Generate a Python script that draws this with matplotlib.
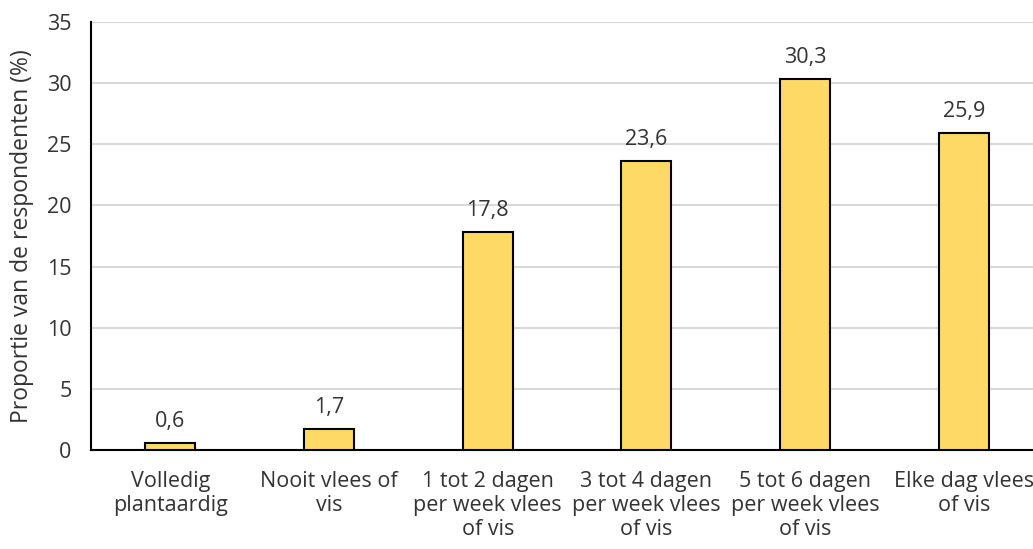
import matplotlib
matplotlib.use("Agg")
import matplotlib.pyplot as plt

categories = ["Volledig\nplantaardig", "Nooit vlees of\nvis", "1 tot 2 dagen\nper week vlees\nof vis",
              "3 tot 4 dagen\nper week vlees\nof vis", "5 tot 6 dagen\nper week vlees\nof vis",
              "Elke dag vlees\nof vis"]
values = [0.6, 1.7, 17.8, 23.6, 30.3, 25.9]
yticks = [0, 5, 10, 15, 20, 25, 30, 35]

plt.rcParams['font.family'] = ['Open Sans', 'DejaVu Sans']

FS = 15.5
TXT = "#333333"

fig = plt.figure(figsize=(10.33, 5.49), dpi=100)
ax = fig.add_axes([0.088, 0.180, 0.922, 0.780])
x = range(len(values))
ax.bar(x, values, width=0.315, color="#FFD966", edgecolor="black", linewidth=1.5, zorder=3)
for xi, v in zip(x, values):
    ax.annotate(f"{v:.1f}".replace(".", ","), (xi, v), xytext=(0, 8), textcoords="offset points",
                ha="center", va="bottom", fontsize=FS, color=TXT)
ax.set_xlim(-0.5, len(values) - 0.5)
ax.set_ylim(0, 35)
ax.set_yticks(yticks)
ax.set_yticklabels([str(t) for t in yticks], fontsize=FS, color=TXT)
ax.set_xticks(list(x))
ax.set_xticklabels(categories, fontsize=FS, color=TXT, linespacing=1.2)
ax.tick_params(axis="y", length=0, pad=14)
ax.tick_params(axis="x", length=0, pad=15)
ax.yaxis.grid(True, color="#d9d9d9", linewidth=1.5, zorder=0)
ax.set_axisbelow(True)
for s in ["top", "right"]:
    ax.spines[s].set_visible(False)
ax.spines["left"].set_linewidth(1.5)
ax.spines["bottom"].set_linewidth(1.5)
ax.set_ylabel("Proportie van de respondenten (%)", fontsize=16.5, color=TXT, labelpad=9)
fig.savefig("out.png", dpi=100)
